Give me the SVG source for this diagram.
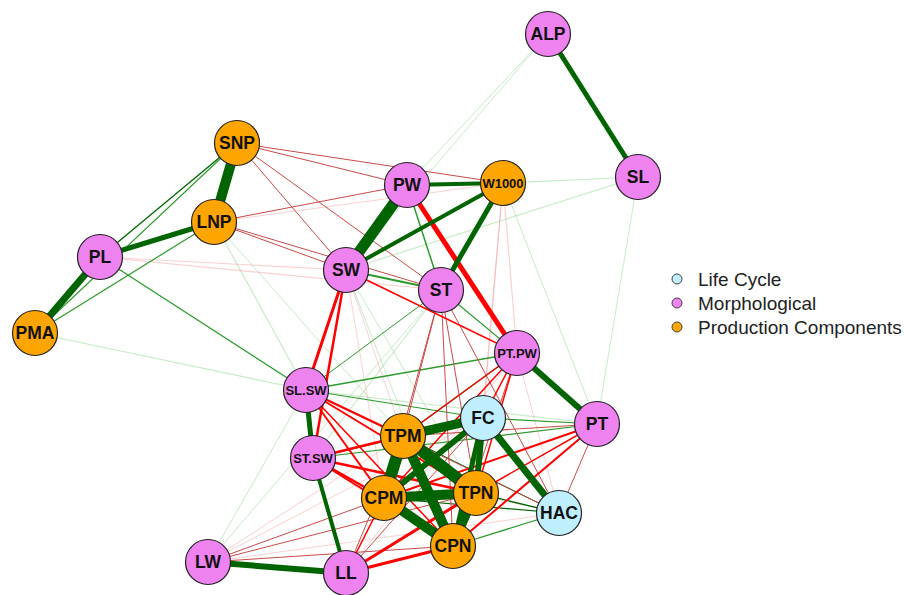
<svg xmlns="http://www.w3.org/2000/svg" width="905" height="595" viewBox="0 0 905 595">
<style>
.e{fill:none;stroke-linecap:butt}
.g1{stroke:#006400}
.g2{stroke:#2c9a2c}
.g3{stroke:#9ad89a;stroke-opacity:.55}
.r1{stroke:#ff0000}
.r2{stroke:#c94a4a}
.r3{stroke:#f2a3a3;stroke-opacity:.5}
.n circle{stroke:#222;stroke-width:1.2}
.m{fill:#EE82EE}.p{fill:#FFA500}.l{fill:#BFEFFF}
.n text{font-family:"Liberation Sans",Arial,sans-serif;font-weight:bold;font-size:17.5px;fill:#111;text-anchor:middle;dominant-baseline:central}
.n text.s{font-size:13px}
.lg text{font-family:"Liberation Sans",Arial,sans-serif;font-size:19px;fill:#222}
.lg circle{stroke:#444;stroke-width:1}
</style>
<rect width="905" height="595" fill="#fff"/>
<g id="edges">
<line class="e g3" x1="548" y1="34" x2="407" y2="185" stroke-width="1"/>
<line class="e g3" x1="548" y1="34" x2="346" y2="270" stroke-width="1"/>
<line class="e g3" x1="503" y1="183" x2="638" y2="177" stroke-width="1.2"/>
<line class="e g3" x1="346" y1="270" x2="638" y2="177" stroke-width="1.2"/>
<line class="e g3" x1="638" y1="177" x2="597" y2="424" stroke-width="1"/>
<line class="e g3" x1="503" y1="183" x2="597" y2="424" stroke-width="1"/>
<line class="e g3" x1="35" y1="333" x2="306" y2="390" stroke-width="1.2"/>
<line class="e g3" x1="214" y1="222" x2="306" y2="390" stroke-width="1.2"/>
<line class="e g3" x1="208" y1="562" x2="306" y2="390" stroke-width="1"/>
<line class="e g3" x1="208" y1="562" x2="441" y2="290" stroke-width="1"/>
<line class="e g3" x1="346" y1="270" x2="453" y2="546" stroke-width="1"/>
<line class="e g3" x1="346" y1="270" x2="476" y2="493" stroke-width="1"/>
<line class="e g3" x1="306" y1="390" x2="597" y2="424" stroke-width="1.2"/>
<line class="e g3" x1="214" y1="222" x2="403" y2="436" stroke-width="1"/>
<line class="e g3" x1="441" y1="290" x2="313" y2="458" stroke-width="1.2"/>
<line class="e r3" x1="100" y1="257" x2="346" y2="270" stroke-width="1.2"/>
<line class="e r3" x1="100" y1="257" x2="441" y2="290" stroke-width="1.2"/>
<line class="e r3" x1="214" y1="222" x2="503" y2="183" stroke-width="1"/>
<line class="e r3" x1="503" y1="183" x2="517" y2="353" stroke-width="1.2"/>
<line class="e r3" x1="503" y1="183" x2="483" y2="418" stroke-width="1.2"/>
<line class="e r3" x1="503" y1="183" x2="476" y2="493" stroke-width="1"/>
<line class="e r3" x1="208" y1="562" x2="483" y2="418" stroke-width="1"/>
<line class="e r3" x1="208" y1="562" x2="559" y2="513" stroke-width="1"/>
<line class="e r3" x1="208" y1="562" x2="403" y2="436" stroke-width="1"/>
<line class="e r3" x1="346" y1="573" x2="517" y2="353" stroke-width="1"/>
<line class="e r3" x1="346" y1="270" x2="403" y2="436" stroke-width="1"/>
<line class="e r3" x1="346" y1="270" x2="384" y2="498" stroke-width="1"/>
<line class="e r3" x1="517" y1="353" x2="559" y2="513" stroke-width="1"/>
<line class="e r3" x1="313" y1="458" x2="559" y2="513" stroke-width="1"/>
<line class="e g2" x1="100" y1="257" x2="306" y2="390" stroke-width="1.2"/>
<line class="e g2" x1="35" y1="333" x2="237" y2="143" stroke-width="1.2"/>
<line class="e g2" x1="35" y1="333" x2="214" y2="222" stroke-width="1.2"/>
<line class="e g1" x1="100" y1="257" x2="237" y2="143" stroke-width="1.3"/>
<line class="e g2" x1="407" y1="185" x2="441" y2="290" stroke-width="1.5"/>
<line class="e g2" x1="346" y1="270" x2="441" y2="290" stroke-width="2"/>
<line class="e g2" x1="306" y1="390" x2="517" y2="353" stroke-width="1.6"/>
<line class="e g2" x1="306" y1="390" x2="483" y2="418" stroke-width="1.2"/>
<line class="e g2" x1="313" y1="458" x2="483" y2="418" stroke-width="1.5"/>
<line class="e g2" x1="313" y1="458" x2="597" y2="424" stroke-width="1.2"/>
<line class="e g1" x1="403" y1="436" x2="517" y2="353" stroke-width="1.2"/>
<line class="e g2" x1="441" y1="290" x2="517" y2="353" stroke-width="1.2"/>
<line class="e g2" x1="441" y1="290" x2="306" y2="390" stroke-width="1"/>
<line class="e g2" x1="483" y1="418" x2="597" y2="424" stroke-width="1.2"/>
<line class="e g1" x1="476" y1="493" x2="559" y2="513" stroke-width="1.3"/>
<line class="e g1" x1="384" y1="498" x2="559" y2="513" stroke-width="1.2"/>
<line class="e g2" x1="453" y1="546" x2="559" y2="513" stroke-width="1.3"/>
<line class="e g1" x1="403" y1="436" x2="559" y2="513" stroke-width="1"/>
<line class="e g2" x1="313" y1="458" x2="346" y2="573" stroke-width="1"/>
<line class="e r2" x1="237" y1="143" x2="503" y2="183" stroke-width="1"/>
<line class="e r2" x1="237" y1="143" x2="407" y2="185" stroke-width="1"/>
<line class="e r2" x1="237" y1="143" x2="346" y2="270" stroke-width="1"/>
<line class="e r2" x1="237" y1="143" x2="441" y2="290" stroke-width="1"/>
<line class="e r2" x1="214" y1="222" x2="407" y2="185" stroke-width="1"/>
<line class="e r2" x1="214" y1="222" x2="346" y2="270" stroke-width="1"/>
<line class="e r2" x1="214" y1="222" x2="441" y2="290" stroke-width="1"/>
<line class="e r2" x1="441" y1="290" x2="403" y2="436" stroke-width="1"/>
<line class="e r2" x1="441" y1="290" x2="384" y2="498" stroke-width="1"/>
<line class="e r2" x1="441" y1="290" x2="476" y2="493" stroke-width="1"/>
<line class="e r2" x1="441" y1="290" x2="453" y2="546" stroke-width="1"/>
<line class="e r2" x1="441" y1="290" x2="559" y2="513" stroke-width="1"/>
<line class="e r2" x1="208" y1="562" x2="384" y2="498" stroke-width="1"/>
<line class="e r2" x1="208" y1="562" x2="476" y2="493" stroke-width="1"/>
<line class="e r2" x1="208" y1="562" x2="453" y2="546" stroke-width="1"/>
<line class="e r2" x1="597" y1="424" x2="559" y2="513" stroke-width="1"/>
<line class="e r2" x1="597" y1="424" x2="403" y2="436" stroke-width="1.2"/>
<line class="e r2" x1="517" y1="353" x2="453" y2="546" stroke-width="1"/>
<line class="e r2" x1="346" y1="573" x2="403" y2="436" stroke-width="1"/>
<line class="e r2" x1="346" y1="573" x2="483" y2="418" stroke-width="1"/>
<line class="e r2" x1="306" y1="390" x2="559" y2="513" stroke-width="1"/>
<line class="e r1" x1="346" y1="270" x2="517" y2="353" stroke-width="1.6"/>
<line class="e r1" x1="346" y1="270" x2="306" y2="390" stroke-width="3"/>
<line class="e r1" x1="346" y1="270" x2="313" y2="458" stroke-width="2.5"/>
<line class="e r1" x1="306" y1="390" x2="403" y2="436" stroke-width="2"/>
<line class="e r1" x1="306" y1="390" x2="384" y2="498" stroke-width="2"/>
<line class="e r1" x1="306" y1="390" x2="476" y2="493" stroke-width="2"/>
<line class="e r1" x1="306" y1="390" x2="453" y2="546" stroke-width="1.5"/>
<line class="e r1" x1="313" y1="458" x2="403" y2="436" stroke-width="2.5"/>
<line class="e r1" x1="313" y1="458" x2="384" y2="498" stroke-width="2.5"/>
<line class="e r1" x1="313" y1="458" x2="476" y2="493" stroke-width="2.5"/>
<line class="e r1" x1="313" y1="458" x2="453" y2="546" stroke-width="2"/>
<line class="e r1" x1="346" y1="573" x2="453" y2="546" stroke-width="3"/>
<line class="e r1" x1="346" y1="573" x2="476" y2="493" stroke-width="3"/>
<line class="e r1" x1="346" y1="573" x2="384" y2="498" stroke-width="1.5"/>
<line class="e r1" x1="597" y1="424" x2="384" y2="498" stroke-width="2"/>
<line class="e r1" x1="597" y1="424" x2="453" y2="546" stroke-width="2"/>
<line class="e r1" x1="597" y1="424" x2="476" y2="493" stroke-width="1.5"/>
<line class="e r1" x1="517" y1="353" x2="483" y2="418" stroke-width="1.5"/>
<line class="e r1" x1="517" y1="353" x2="384" y2="498" stroke-width="1.5"/>
<line class="e r1" x1="517" y1="353" x2="476" y2="493" stroke-width="1.5"/>
<line class="e r1" x1="517" y1="353" x2="403" y2="436" stroke-width="1.2"/>
<line class="e r1" x1="407" y1="185" x2="517" y2="353" stroke-width="5"/>
<line class="e g1" x1="548" y1="34" x2="638" y2="177" stroke-width="5"/>
<line class="e g1" x1="237" y1="143" x2="214" y2="222" stroke-width="10"/>
<line class="e g1" x1="100" y1="257" x2="214" y2="222" stroke-width="5"/>
<line class="e g1" x1="100" y1="257" x2="35" y2="333" stroke-width="7"/>
<line class="e g1" x1="407" y1="185" x2="346" y2="270" stroke-width="11"/>
<line class="e g1" x1="407" y1="185" x2="503" y2="183" stroke-width="4"/>
<line class="e g1" x1="503" y1="183" x2="346" y2="270" stroke-width="4"/>
<line class="e g1" x1="503" y1="183" x2="441" y2="290" stroke-width="5"/>
<line class="e g1" x1="517" y1="353" x2="597" y2="424" stroke-width="6"/>
<line class="e g1" x1="306" y1="390" x2="313" y2="458" stroke-width="5"/>
<line class="e g1" x1="313" y1="458" x2="346" y2="573" stroke-width="4"/>
<line class="e g1" x1="208" y1="562" x2="346" y2="573" stroke-width="6"/>
<line class="e g1" x1="483" y1="418" x2="559" y2="513" stroke-width="7"/>
<line class="e g1" x1="483" y1="418" x2="384" y2="498" stroke-width="6"/>
<line class="e g1" x1="483" y1="418" x2="476" y2="493" stroke-width="6"/>
<line class="e g1" x1="483" y1="418" x2="453" y2="546" stroke-width="5"/>
<line class="e g1" x1="403" y1="436" x2="483" y2="418" stroke-width="9"/>
<line class="e g1" x1="403" y1="436" x2="384" y2="498" stroke-width="12"/>
<line class="e g1" x1="403" y1="436" x2="476" y2="493" stroke-width="12"/>
<line class="e g1" x1="403" y1="436" x2="453" y2="546" stroke-width="10"/>
<line class="e g1" x1="384" y1="498" x2="476" y2="493" stroke-width="10"/>
<line class="e g1" x1="384" y1="498" x2="453" y2="546" stroke-width="10"/>
<line class="e g1" x1="476" y1="493" x2="453" y2="546" stroke-width="8"/>
</g>
<g id="ALP" class="n"><circle class="m" cx="548" cy="34" r="22.5"/><text x="548" y="34">ALP</text></g>
<g id="SL" class="n"><circle class="m" cx="638" cy="177" r="22.5"/><text x="638" y="177">SL</text></g>
<g id="SNP" class="n"><circle class="p" cx="237" cy="143" r="22.5"/><text x="237" y="143">SNP</text></g>
<g id="LNP" class="n"><circle class="p" cx="214" cy="222" r="22.5"/><text x="214" y="222">LNP</text></g>
<g id="PW" class="n"><circle class="m" cx="407" cy="185" r="22.5"/><text x="407" y="185">PW</text></g>
<g id="W1000" class="n"><circle class="p" cx="503" cy="183" r="22.5"/><text class="s" x="503" y="183">W1000</text></g>
<g id="PL" class="n"><circle class="m" cx="100" cy="257" r="22.5"/><text x="100" y="257">PL</text></g>
<g id="SW" class="n"><circle class="m" cx="346" cy="270" r="22.5"/><text x="346" y="270">SW</text></g>
<g id="ST" class="n"><circle class="m" cx="441" cy="290" r="22.5"/><text x="441" y="290">ST</text></g>
<g id="PMA" class="n"><circle class="p" cx="35" cy="333" r="22.5"/><text x="35" y="333">PMA</text></g>
<g id="PT.PW" class="n"><circle class="m" cx="517" cy="353" r="22.5"/><text class="s" x="517" y="353">PT.PW</text></g>
<g id="SL.SW" class="n"><circle class="m" cx="306" cy="390" r="22.5"/><text class="s" x="306" y="390">SL.SW</text></g>
<g id="FC" class="n"><circle class="l" cx="483" cy="418" r="22.5"/><text x="483" y="418">FC</text></g>
<g id="PT" class="n"><circle class="m" cx="597" cy="424" r="22.5"/><text x="597" y="424">PT</text></g>
<g id="TPM" class="n"><circle class="p" cx="403" cy="436" r="22.5"/><text x="403" y="436">TPM</text></g>
<g id="ST.SW" class="n"><circle class="m" cx="313" cy="458" r="22.5"/><text class="s" x="313" y="458">ST.SW</text></g>
<g id="HAC" class="n"><circle class="l" cx="559" cy="513" r="22.5"/><text x="559" y="513">HAC</text></g>
<g id="CPM" class="n"><circle class="p" cx="384" cy="498" r="22.5"/><text x="384" y="498">CPM</text></g>
<g id="TPN" class="n"><circle class="p" cx="476" cy="493" r="22.5"/><text x="476" y="493">TPN</text></g>
<g id="CPN" class="n"><circle class="p" cx="453" cy="546" r="22.5"/><text x="453" y="546">CPN</text></g>
<g id="LW" class="n"><circle class="m" cx="208" cy="562" r="22.5"/><text x="208" y="562">LW</text></g>
<g id="LL" class="n"><circle class="m" cx="346" cy="573" r="22.5"/><text x="346" y="573">LL</text></g>
<g id="legend" class="lg">
<circle cx="677" cy="279" r="5" fill="#BFEFFF"/><text x="698" y="285.5">Life Cycle</text>
<circle cx="677" cy="303" r="5" fill="#EE82EE"/><text x="698" y="309.5">Morphological</text>
<circle cx="677" cy="327" r="5" fill="#FFA500"/><text x="698" y="333.5">Production Components</text>
</g>
</svg>
